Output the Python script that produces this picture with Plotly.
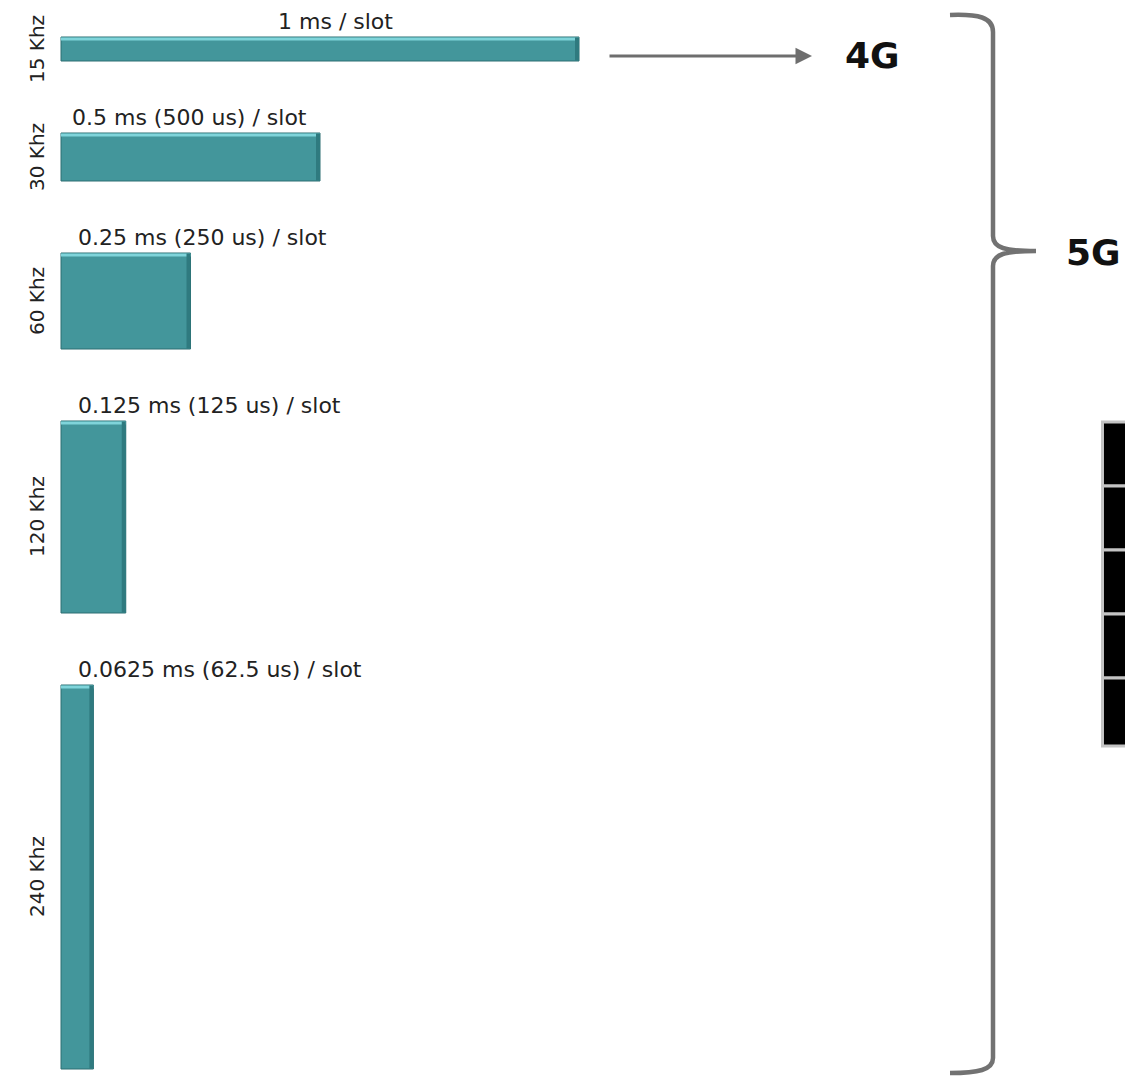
import plotly.graph_objects as go

# ---- data ----
scs_labels = ["15 Khz", "30 Khz", "60 Khz", "120 Khz", "240 Khz"]
scs_khz = [15, 30, 60, 120, 240]
slot_ms = [1, 0.5, 0.25, 0.125, 0.0625]
slot_text = ["1 ms / slot", "0.5 ms (500 us) / slot", "0.25 ms (250 us) / slot",
             "0.125 ms (125 us) / slot", "0.0625 ms (62.5 us) / slot"]

# ---- layout constants (figure geometry) ----
W, H = 1125, 1080
OFF = 0                      # body margin removed via post_script
PX_PER_MS = 518.0
PX_PER_KHZ = 1.6
X0_PX = 61 - OFF
TOP = (37 - OFF) / PX_PER_KHZ   # in kHz-units
GAP = 45.0                      # in kHz-units

tops, centers = [], []
t = TOP
for s in scs_khz:
    tops.append(t)
    centers.append(t + s / 2)
    t += s + GAP

hl = 3 / PX_PER_KHZ            # highlight strip thickness
edge = 4 / PX_PER_MS           # dark right edge thickness


def px(x):
    return (x - OFF) / W


def py(y):
    return 1 - (y - OFF) / H


fig = go.Figure()
# main bars
fig.add_trace(go.Bar(orientation="h", y=centers, x=slot_ms, width=scs_khz, base=0,
                     marker=dict(color="#43969b", line=dict(color="#2c6f73", width=1)),
                     hoverinfo="skip", showlegend=False))
# top highlight
fig.add_trace(go.Bar(orientation="h", y=[tp + hl / 2 + 0.3 for tp in tops], x=slot_ms,
                     width=[hl] * len(tops), base=0,
                     marker=dict(color="#7fd4da", line=dict(width=0)),
                     hoverinfo="skip", showlegend=False))
# right dark edge
fig.add_trace(go.Bar(orientation="h", y=centers, x=[edge] * len(slot_ms),
                     width=[s - 0.6 for s in scs_khz], base=[d - edge for d in slot_ms],
                     marker=dict(color="#2f7a7f", line=dict(width=0)),
                     hoverinfo="skip", showlegend=False))

LBL_FONT = dict(family="Verdana, DejaVu Sans", size=22, color="#222")
annotations = []
for i, (c, tp, d, txt, lab) in enumerate(zip(centers, tops, slot_ms, slot_text, scs_labels)):
    if i == 0:
        annotations.append(dict(x=d / 2, y=tp, xref="x", yref="y", text=txt, showarrow=False,
                                xanchor="center", yanchor="bottom", xshift=15, yshift=1,
                                font=LBL_FONT))
    else:
        annotations.append(dict(x=0, y=tp, xref="x", yref="y", text=txt, showarrow=False,
                                xanchor="left", yanchor="bottom", xshift=9 if i == 1 else 15, yshift=1,
                                font=LBL_FONT))
    annotations.append(dict(x=px(37), y=c, xref="paper", yref="y", text=lab, showarrow=False,
                            textangle=-90, xanchor="center", yanchor="middle",
                            font=dict(family="Verdana, DejaVu Sans", size=20, color="#222")))

# 4G arrow and labels
annotations.append(dict(x=px(812), y=py(56), xref="paper", yref="paper", ax=-204, ay=0,
                        showarrow=True, arrowhead=2, arrowsize=1.1, arrowwidth=3,
                        arrowcolor="#6e6e6e", text=""))
annotations.append(dict(x=px(872), y=py(56), xref="paper", yref="paper", text="<b>4G</b>",
                        showarrow=False, xanchor="center", yanchor="middle",
                        font=dict(family="DejaVu Sans", size=36, color="#111")))
annotations.append(dict(x=px(1093), y=py(252), xref="paper", yref="paper", text="<b>5G</b>",
                        showarrow=False, xanchor="center", yanchor="middle",
                        font=dict(family="DejaVu Sans", size=36, color="#111")))


def p(x, y):
    return f"{px(x):.5f},{py(y):.5f}"


brace = ("M " + p(950, 15) + " C " + p(978, 14) + " " + p(993, 17) + " " + p(993, 32) +
         " L " + p(993, 236) + " C " + p(993, 248) + " " + p(1005, 251) + " " + p(1036, 251) +
         " C " + p(1005, 251) + " " + p(993, 254) + " " + p(993, 266) +
         " L " + p(993, 1058) + " C " + p(993, 1070) + " " + p(978, 1073) + " " + p(950, 1073))

shapes = [dict(type="path", path=brace, xref="paper", yref="paper",
               line=dict(color="#727272", width=4.5))]

# black table partially visible at right edge
cell_tops = [422, 486, 550, 614, 678]
for k, ct in enumerate(cell_tops):
    hgt = 68 if k == len(cell_tops) - 1 else 64
    shapes.append(dict(type="rect", xref="paper", yref="paper",
                       x0=px(1102.5), x1=px(1145), y0=py(ct), y1=py(ct + hgt),
                       fillcolor="#000000", line=dict(color="#c4c4c4", width=3)))

fig.update_layout(
    width=W, height=H,
    margin=dict(l=0, r=0, t=0, b=0),
    paper_bgcolor="white", plot_bgcolor="white",
    barmode="overlay",
    xaxis=dict(range=[-X0_PX / PX_PER_MS, (W - X0_PX) / PX_PER_MS], visible=False, fixedrange=True),
    yaxis=dict(range=[H / PX_PER_KHZ, 0], visible=False, fixedrange=True),
    annotations=annotations,
    shapes=shapes,
    showlegend=False,
)

fig.write_html("out.html", config={"displayModeBar": False},
               post_script="document.body.style.margin='0px';document.body.style.overflow='hidden';")
